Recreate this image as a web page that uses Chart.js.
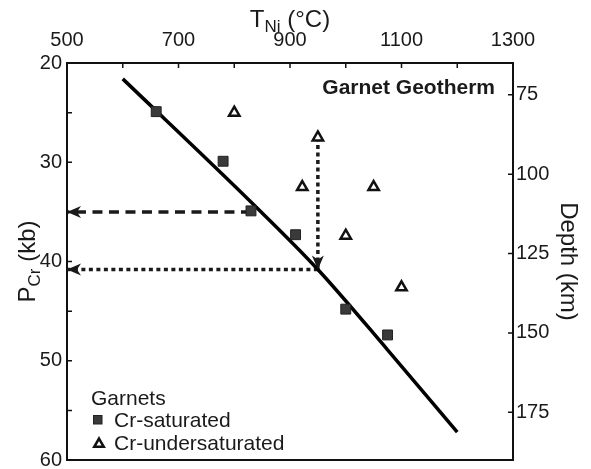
<!DOCTYPE html>
<html>
<head>
<meta charset="utf-8">
<title>Garnet Geotherm</title>
<script src="https://cdn.jsdelivr.net/npm/chart.js@4.4.0/dist/chart.umd.min.js"></script>
<style>
  html, body { margin: 0; padding: 0; background: #fff; }
  #wrap { width: 591px; height: 469px; position: relative; }
</style>
</head>
<body>
<div id="wrap"><canvas id="chart"></canvas></div>
<script>
// axis ticks
const tempTicks = [500, 600, 700, 800, 900, 1000, 1100, 1200, 1300];
const tempLabels = [500, 700, 900, 1100, 1300];
const pressureTicks = [20, 25, 30, 35, 40, 45, 50, 55, 60];
const pressureLabels = [20, 30, 40, 50, 60];
const depthTicks = [75, 100, 125, 150, 175];

// geotherm curve (T in °C, P in kb)
const geothermT = [600, 830, 950, 1075, 1200];
const geothermP = [21.6, 34.0, 40.8, 48.9, 57.2];

// Cr-saturated garnets
const satT = [660, 780, 830, 910, 1000, 1075];
const satP = [24.9, 29.9, 34.9, 37.3, 44.8, 47.4];

// Cr-undersaturated garnets
const underT = [800, 950, 922, 1050, 1000, 1100];
const underP = [25.0, 27.5, 32.5, 32.5, 37.4, 42.6];

// pressure read-outs
const dashT = [830, 500];
const dashP = [35, 35];
const dropT = [950, 950];
const dropP = [27.5, 40.8];
const dotT = [950, 500];
const dotP = [40.8, 40.8];

const FONT = '"Liberation Sans", Helvetica, Arial, sans-serif';
const INK = '#1a1a1a';
const FRAME = '#111';
const TICK_LEN = 5;

const toXY = (xs, ys) => xs.map((x, i) => ({ x: x, y: ys[i] }));

// draws a run of text pieces (for subscripts), centred on cx
function drawParts(ctx, parts, cx, baseY) {
  let total = 0;
  parts.forEach(p => {
    ctx.font = (p.bold ? 'bold ' : '') + p.size + 'px ' + FONT;
    p.w = ctx.measureText(p.t).width;
    total += p.w;
  });
  let x = cx - total / 2;
  ctx.textAlign = 'left';
  ctx.textBaseline = 'alphabetic';
  parts.forEach(p => {
    ctx.font = (p.bold ? 'bold ' : '') + p.size + 'px ' + FONT;
    ctx.fillText(p.t, x, baseY + (p.dy || 0));
    x += p.w;
  });
}

// tick marks pointing into the plot box
const innerTickPlugin = {
  id: 'innerTicks',
  afterDatasetsDraw(chart) {
    const { ctx, chartArea: a } = chart;
    ctx.save();
    ctx.strokeStyle = FRAME;
    ctx.lineWidth = 1.5;
    ctx.beginPath();
    ['x', 'y', 'y2'].forEach(id => {
      const s = chart.scales[id];
      s.ticks.forEach(t => {
        const p = s.getPixelForValue(t.value);
        if (id === 'x') { ctx.moveTo(p, a.top); ctx.lineTo(p, a.top + TICK_LEN); }
        if (id === 'y') { ctx.moveTo(a.left, p); ctx.lineTo(a.left + TICK_LEN, p); }
        if (id === 'y2') { ctx.moveTo(a.right, p); ctx.lineTo(a.right - TICK_LEN, p); }
      });
    });
    ctx.stroke();
    ctx.restore();
  }
};

const arrowPlugin = {
  id: 'arrowHeads',
  afterDatasetsDraw(chart) {
    const ctx = chart.ctx;
    chart.data.datasets.forEach((ds, i) => {
      if (!ds.arrowHead) return;
      const pts = chart.getDatasetMeta(i).data;
      const tip = pts[pts.length - 1];
      const from = pts[pts.length - 2];
      const ang = Math.atan2(tip.y - from.y, tip.x - from.x);
      ctx.save();
      ctx.translate(tip.x, tip.y);
      ctx.rotate(ang);
      ctx.beginPath();
      ctx.moveTo(0, 0);
      ctx.lineTo(-14, -6);
      ctx.lineTo(-10, 0);
      ctx.lineTo(-14, 6);
      ctx.closePath();
      ctx.fillStyle = ds.borderColor;
      ctx.fill();
      ctx.restore();
    });
  }
};

const labelPlugin = {
  id: 'garnetLabels',
  afterDraw(chart) {
    const { ctx, chartArea } = chart;
    const cx = (chartArea.left + chartArea.right) / 2;
    const cy = (chartArea.top + chartArea.bottom) / 2;
    ctx.save();
    ctx.fillStyle = INK;

    // axis titles
    drawParts(ctx, [{ t: 'T', size: 24 }, { t: 'Ni', size: 17, dy: 5 }, { t: ' (°C)', size: 24 }], cx, 27);

    ctx.save();
    ctx.translate(34.5, cy);
    ctx.rotate(-Math.PI / 2);
    drawParts(ctx, [{ t: 'P', size: 24 }, { t: 'Cr', size: 17, dy: 5 }, { t: ' (kb)', size: 24 }], 0, 0);
    ctx.restore();

    ctx.save();
    ctx.translate(561, cy);
    ctx.rotate(Math.PI / 2);
    drawParts(ctx, [{ t: 'Depth (km)', size: 24 }], 0, 0);
    ctx.restore();

    // panel title
    ctx.font = 'bold 21px ' + FONT;
    ctx.textAlign = 'right';
    ctx.fillText('Garnet Geotherm', chartArea.right - 18, chartArea.top + 30.5);

    // legend
    const lx = chartArea.left + 24;
    ctx.font = '21px ' + FONT;
    ctx.textAlign = 'left';
    ctx.fillText('Garnets', lx, 405);
    ctx.fillText('Cr-saturated', lx + 23, 427);
    ctx.fillText('Cr-undersaturated', lx + 23, 449.5);

    ctx.fillStyle = '#3a3a3a';
    ctx.strokeStyle = '#222';
    ctx.lineWidth = 1;
    ctx.fillRect(lx + 2.5, 415.5, 8.5, 8.5);
    ctx.strokeRect(lx + 2.5, 415.5, 8.5, 8.5);

    const tx = lx + 8, ty = 444, r = 5.5;
    ctx.beginPath();
    ctx.moveTo(tx, ty - r);
    ctx.lineTo(tx + r * 0.866, ty + r / 2);
    ctx.lineTo(tx - r * 0.866, ty + r / 2);
    ctx.closePath();
    ctx.fillStyle = '#fff';
    ctx.fill();
    ctx.lineWidth = 2.5;
    ctx.strokeStyle = '#111';
    ctx.stroke();

    ctx.restore();
  }
};

const axisBorder = { display: true, color: FRAME, width: 2 };
const noGrid = { display: true, drawOnChartArea: false, drawTicks: false };
const tickFont = { family: FONT, size: 20 };

// fixed box sizes so the plot area sits where it should
const fixHeight = h => s => { s.height = h; s.paddingLeft = 0; s.paddingRight = 0; };
const fixWidth = w => s => { s.width = w; s.paddingTop = 0; s.paddingBottom = 0; };

new Chart(document.getElementById('chart'), {
  data: {
    datasets: [
      {
        type: 'scatter', label: 'Cr-saturated', order: 0,
        data: toXY(satT, satP), xAxisID: 'x', yAxisID: 'y',
        pointStyle: 'rect', pointRadius: 7, backgroundColor: '#3a3a3a', borderColor: '#222', borderWidth: 1
      },
      {
        type: 'scatter', label: 'Cr-undersaturated', order: 0,
        data: toXY(underT, underP), xAxisID: 'x', yAxisID: 'y',
        pointStyle: 'triangle', pointRadius: 6, backgroundColor: '#fff', borderColor: '#111', borderWidth: 2.5
      },
      {
        type: 'line', label: 'Garnet geotherm', order: 1,
        data: toXY(geothermT, geothermP), xAxisID: 'x', yAxisID: 'y',
        borderColor: '#000', borderWidth: 3.5, pointRadius: 0, cubicInterpolationMode: 'monotone', fill: false
      },
      {
        type: 'line', label: 'P at Cr-saturated', order: 2, arrowHead: true,
        data: toXY(dashT, dashP), xAxisID: 'x', yAxisID: 'y',
        borderColor: '#1a1a1a', borderWidth: 3.5, borderDash: [10, 6.5], pointRadius: 0, fill: false
      },
      {
        type: 'line', label: 'Drop to geotherm', order: 2, arrowHead: true,
        data: toXY(dropT, dropP), xAxisID: 'x', yAxisID: 'y',
        borderColor: '#1a1a1a', borderWidth: 3.5, borderDash: [4, 3.5], pointRadius: 0, fill: false
      },
      {
        type: 'line', label: 'P at geotherm', order: 2, arrowHead: true,
        data: toXY(dotT, dotP), xAxisID: 'x', yAxisID: 'y',
        borderColor: '#1a1a1a', borderWidth: 3.5, borderDash: [4, 3.5], pointRadius: 0, fill: false
      }
    ]
  },
  options: {
    responsive: true,
    maintainAspectRatio: false,
    animation: false,
    layout: { padding: 0 },
    plugins: { legend: { display: false }, tooltip: { enabled: false } },
    scales: {
      x: {
        type: 'linear', position: 'top', min: 500, max: 1300,
        afterBuildTicks: s => { s.ticks = tempTicks.map(v => ({ value: v })); },
        afterFit: fixHeight(63),
        ticks: {
          font: tickFont, color: INK, padding: 11, maxRotation: 0, autoSkip: false,
          callback: v => tempLabels.includes(v) ? String(v) : ''
        },
        grid: noGrid, border: axisBorder
      },
      x2: {
        type: 'linear', position: 'bottom', min: 500, max: 1300,
        afterFit: fixHeight(9),
        ticks: { display: false },
        grid: noGrid, border: axisBorder
      },
      y: {
        type: 'linear', position: 'left', reverse: true, min: 20, max: 60,
        afterBuildTicks: s => { s.ticks = pressureTicks.map(v => ({ value: v })); },
        afterFit: fixWidth(67),
        ticks: {
          font: tickFont, color: INK, padding: 5, autoSkip: false,
          callback: v => pressureLabels.includes(v) ? String(v) : ''
        },
        grid: noGrid, border: axisBorder
      },
      y2: {
        type: 'linear', position: 'right', reverse: true, min: 65, max: 190,
        afterBuildTicks: s => { s.ticks = depthTicks.map(v => ({ value: v })); },
        afterFit: fixWidth(78),
        ticks: { font: tickFont, color: INK, padding: 3, autoSkip: false },
        grid: noGrid, border: axisBorder
      }
    }
  },
  plugins: [innerTickPlugin, arrowPlugin, labelPlugin]
});
</script>
</body>
</html>
